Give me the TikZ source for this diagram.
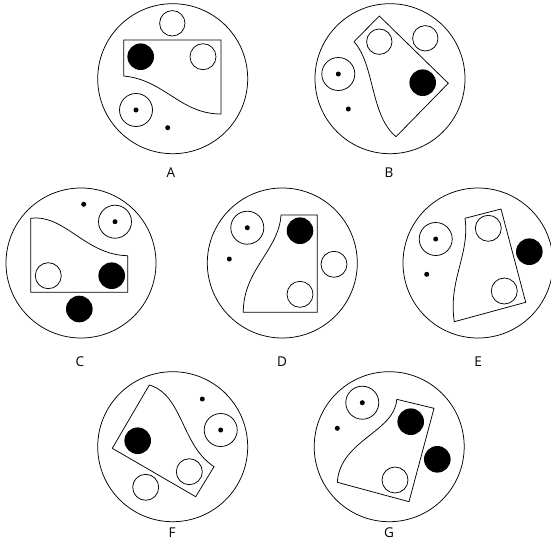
\documentclass[tikz,border=0pt]{standalone}
\usepackage{fontspec}
\setsansfont{Open Sans}
\begin{document}
\begin{tikzpicture}[x=1pt,y=-1pt,line width=0.75pt,
  outer/.style={draw},
  shp/.style={draw,line join=miter},
  wc/.style={draw,fill=white},
  bc/.style={fill=black},
  lab/.style={font=\sffamily\fontsize{13.5}{14}\selectfont,inner sep=0pt}]
\useasboundingbox (0,0) rectangle (551,549);
% ---------- A ----------
\draw[outer] (172.7,78.7) circle (75);
\draw[shp] (123.7,76) -- (123.7,40) -- (221,40) -- (221,114) .. controls (180,114) and (165,80) .. (123.7,76);
\draw[wc] (172.3,23.3) circle (12.7);
\fill[bc] (140.7,56.7) circle (13.3);
\draw[wc] (203,56.7) circle (13);
\draw[wc] (136,110) circle (16.5);
\fill (136,110) circle (2.5);
\fill (167.7,127.7) circle (2.5);
\node[lab] (la) at (171,173) {A};
% ---------- B ----------
\draw[outer] (390,78.7) circle (75);
\draw[shp] (354,41.7) -- (379.3,16) -- (448.3,83.3) -- (396,136.7) .. controls (370,115) and (375,65) .. (354,41.7);
\draw[wc] (379.3,41.7) circle (12.7);
\draw[wc] (425.3,38.3) circle (12.7);
\fill[bc] (422.7,82.7) circle (13.3);
\draw[wc] (338.3,74) circle (16.5);
\fill (338.3,74) circle (2.5);
\fill (348.3,109) circle (2.5);
\node[lab] (lb) at (389,173) {B};
% ---------- C ----------
\draw[outer] (81,263) circle (75);
\draw[shp] (30.7,218.3) .. controls (65,214) and (85,255) .. (127.7,255.7) -- (127.7,292.3) -- (30.7,292.3) -- cycle;
\draw[wc] (48.3,275.7) circle (13);
\fill[bc] (111.7,275.7) circle (13.3);
\fill[bc] (79.3,309) circle (13.3);
\draw[wc] (115,221.7) circle (16.5);
\fill (115,221.7) circle (2.5);
\fill (83.7,204.3) circle (2.5);
\node[lab] (lc) at (80,362) {C};
% ---------- D ----------
\draw[outer] (282.3,263) circle (75);
\draw[shp] (281,215) -- (317.3,215) -- (317.3,312.3) -- (243.3,312.3) .. controls (243,270) and (279,250) .. (281,215);
\fill[bc] (300,230.7) circle (13.3);
\draw[wc] (300,294.3) circle (13);
\draw[wc] (334,264.3) circle (13);
\draw[wc] (247.3,227.7) circle (16.5);
\fill (247.3,227.7) circle (2.5);
\fill (229.3,259) circle (2.5);
\node[lab] (ld) at (282,362) {D};
% ---------- E ----------
\draw[outer] (478,263) circle (75);
\draw[shp] (465,218.3) -- (501,209) -- (525.7,302.3) -- (454.3,321.7) .. controls (448,280) and (470,255) .. (465,218.3);
\draw[wc] (488.3,228.3) circle (13);
\draw[wc] (504.3,291) circle (13);
\fill[bc] (529.3,251.7) circle (13.3);
\draw[wc] (435.7,239) circle (16.5);
\fill (435.7,239) circle (2.5);
\fill (426.7,274.3) circle (2.5);
\node[lab] (le) at (478,362) {E};
% ---------- F ----------
\draw[outer] (172.7,446.7) circle (75);
\draw[shp] (149.3,385) .. controls (183,395) and (181,445) .. (214,466.7) -- (195.7,496.7) -- (112.3,448.3) -- cycle;
\fill[bc] (137.7,440.7) circle (13.3);
\draw[wc] (189.3,471.7) circle (13);
\draw[wc] (145.7,487.3) circle (13);
\draw[wc] (220.7,430) circle (16.5);
\fill (220.7,430) circle (2.5);
\fill (202.3,399) circle (2.5);
\node[lab] (lf) at (172,533) {F};
% ---------- G ----------
\draw[outer] (389.2,446.7) circle (75);
\draw[shp] (396.7,399.3) -- (434,408.3) -- (409,501.7) -- (337.3,482.3) .. controls (340,440) and (395,432) .. (396.7,399.3);
\fill[bc] (410.7,421.7) circle (13.3);
\fill[bc] (437.3,459.3) circle (13.3);
\draw[wc] (395,480) circle (13);
\draw[wc] (362.3,402.7) circle (16.5);
\fill (362.3,402.7) circle (2.5);
\fill (337.3,428.3) circle (2.5);
\node[lab] (lg) at (389,533) {G};
\end{tikzpicture}
\end{document}
